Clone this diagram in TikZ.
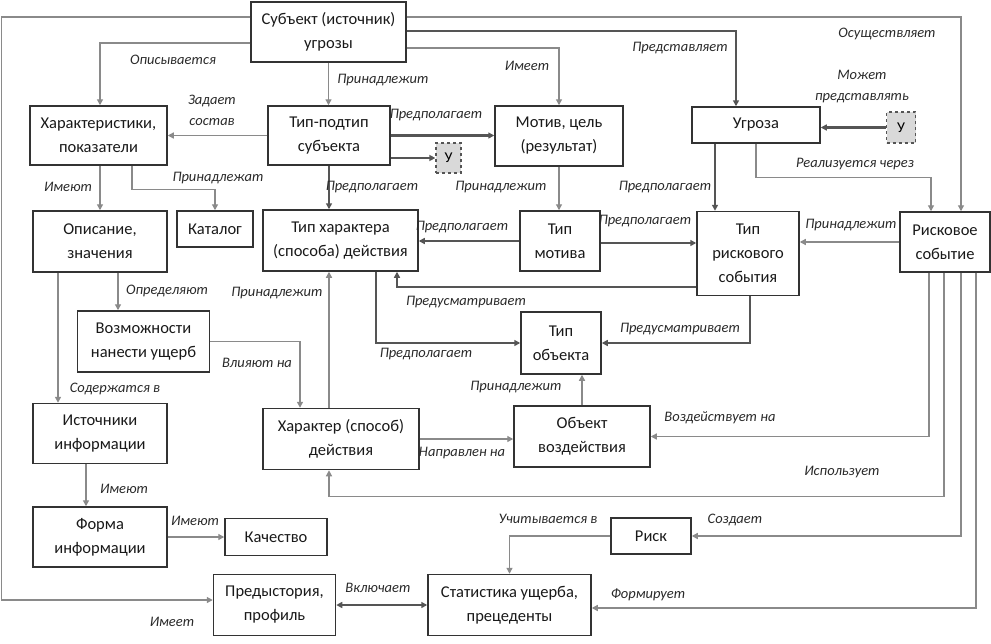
\documentclass[tikz,border=0pt]{standalone}
\usepackage{fontspec}
\setmainfont{Carlito}
\usetikzlibrary{arrows.meta,calc}
\definecolor{boxc}{HTML}{333333}
\definecolor{thinc}{HTML}{8A8A8A}
\definecolor{thickc}{HTML}{555555}
\definecolor{lblc}{HTML}{2A2A2A}
\definecolor{ufill}{HTML}{D9D9D9}
\begin{document}
\begin{tikzpicture}[x=1pt,y=-1pt,
  box/.style={draw=boxc,line width=1.5pt,fill=white,align=center,inner sep=0pt,
    font=\fontsize{16.5pt}{24pt}\selectfont,text=black!90},
  ubox/.style={draw=thickc,dashed,line width=1.3pt,fill=ufill,inner sep=0pt,
    font=\fontsize{15pt}{16pt}\selectfont},
  lbl/.style={font=\fontsize{14.5pt}{21pt}\selectfont\itshape,text=lblc,align=center,inner sep=0pt},
  tc/.style={draw=thinc,line width=1.3pt,-{Triangle[length=6pt,width=6pt]}},
  kc/.style={draw=thickc,line width=2.8pt,-{Triangle[length=6pt,width=6pt]}},
]
\path[use as bounding box,fill=white] (0,0) rectangle (991,643);
% boxes
\node[box,minimum width=155pt,minimum height=60pt] (subj) at (328.5,32) {Субъект (источник)\\угрозы};
\node[box,minimum width=137pt,minimum height=59pt] (harak) at (98.5,135.5) {Характеристики,\\показатели};
\node[box,minimum width=122pt,minimum height=59pt] (tip) at (329,135.5) {Тип-подтип\\субъекта};
\node[ubox,minimum width=25pt,minimum height=30pt] (u1) at (448.5,158) {У};
\node[box,minimum width=128pt,minimum height=60pt] (motiv) at (559,136) {Мотив, цель\\(результат)};
\node[box,minimum width=128pt,minimum height=36pt] (ugroza) at (756,125) {Угроза};
\node[ubox,minimum width=29pt,minimum height=31pt] (u2) at (901,127.5) {У};
\node[box,minimum width=134pt,minimum height=61pt] (opis) at (100,241.5) {Описание,\\значения};
\node[box,minimum width=76pt,minimum height=36pt] (katalog) at (215,229) {Каталог};
\node[box,minimum width=155pt,minimum height=61pt] (tiphar) at (340.5,240.5) {Тип характера\\(способа) действия};
\node[box,minimum width=80pt,minimum height=60pt] (tipmot) at (560,241) {Тип\\мотива};
\node[box,minimum width=102pt,minimum height=84pt] (tipris) at (748,253.5) {Тип\\рискового\\события};
\node[box,minimum width=90pt,minimum height=60pt] (riskev) at (945,242) {Рисковое\\событие};
\node[box,minimum width=132pt,minimum height=61pt] (vozm) at (143.5,341.5) {Возможности\\нанести ущерб};
\node[box,minimum width=80pt,minimum height=62pt] (tipobj) at (561,343) {Тип\\объекта};
\node[box,minimum width=134pt,minimum height=60pt] (istoch) at (100,433.5) {Источники\\информации};
\node[box,minimum width=156pt,minimum height=61pt] (harakter) at (341,439) {Характер (способ)\\действия};
\node[box,minimum width=136pt,minimum height=61pt] (obj) at (582,436.5) {Объект\\воздействия};
\node[box,minimum width=134pt,minimum height=60pt] (forma) at (100,537) {Форма\\информации};
\node[box,minimum width=102pt,minimum height=37pt] (kach) at (276,537) {Качество};
\node[box,minimum width=80pt,minimum height=36pt] (risk) at (651,536) {Риск};
\node[box,minimum width=122pt,minimum height=61pt] (predyst) at (274.5,605) {Предыстория,\\профиль};
\node[box,minimum width=163pt,minimum height=61pt] (stat) at (509.5,605) {Статистика ущерба,\\прецеденты};
% connectors
\draw[tc] ([yshift=15pt]subj.west) -- ++(-249,0) |- ([yshift=5pt]predyst.west);
\draw[tc] ([yshift=15pt]subj.east) -| ([xshift=16pt]riskev.north);
\draw[kc] ([yshift=1pt]subj.east) -| ([xshift=-20pt]ugroza.north);
\draw[tc] ([yshift=-16pt]subj.east) -| (motiv.north);
\draw[tc] ([yshift=-11pt]subj.west) -| ([xshift=1.5pt]harak.north);
\draw[tc] (subj.south) -- (subj.south |- tip.north);
\draw[tc] (tip.west) -- (tip.west -| harak.east);
\draw[kc] (tip.east) -- (tip.east -| motiv.west);
\draw[kc] (u1.west -| tip.east) -- (u1.west);
\draw[kc] (tip.south) -- (tip.south |- tiphar.north);
\draw[tc] (harak.south -| opis.north) -- (opis.north);
\draw[tc] ([xshift=33.5pt]harak.south) -- ++(0,24) -| (katalog.north);
\draw[tc] (motiv.south) -- (motiv.south |- tipmot.north);
\draw[kc] ([xshift=-41pt]ugroza.south) -- ([xshift=-41pt]ugroza.south |- tipris.north);
\draw[tc] (ugroza.south) -- ++(0,34) -| ([xshift=-14pt]riskev.north);
\draw[kc] (u2.west) -- (u2.west -| ugroza.east);
\draw[kc] (tipmot.west) -- (tipmot.west -| tiphar.east);
\draw[kc] ([yshift=-2pt]tipmot.east) -- ([yshift=-2pt]tipmot.east -| tipris.west);
\draw[tc] (riskev.west) -- (riskev.west -| tipris.east);
\draw[kc] ([yshift=-33.5pt]tipris.west) -| ([xshift=56.5pt]tiphar.south);
\draw[kc] ([xshift=2pt]tipris.south) |- (tipobj.east);
\draw[kc] ([xshift=35.5pt]tiphar.south) |- (tipobj.west);
\draw[tc] ([xshift=-42pt]opis.south) -- ([xshift=-42pt]opis.south |- istoch.north);
\draw[tc] ([xshift=18pt]opis.south) -- ([xshift=18pt]opis.south |- vozm.north);
\draw[tc] (vozm.east) -| ([xshift=-41pt]harakter.north);
\draw[tc] ([xshift=-12pt]harakter.north) -- ([xshift=-12pt]harakter.north |- tiphar.south);
\draw[tc] (harakter.east) -- (harakter.east -| obj.west);
\draw[tc] (obj.north) -- (obj.north |- tipobj.south);
\draw[tc] ([xshift=-14pt]istoch.south) -- ([xshift=-14pt]istoch.south |- forma.north);
\draw[tc] (forma.east) -- (forma.east -| kach.west);
\draw[tc] ([xshift=-16pt]riskev.south) |- (obj.east);
\draw[tc] ([xshift=-1pt]riskev.south) -- ++(0,224) -| ([xshift=-12pt]harakter.south);
\draw[tc] ([xshift=16pt]riskev.south) |- (risk.east);
\draw[tc] ([xshift=31pt]riskev.south) |- ([yshift=-3pt]stat.east);
\draw[tc] (risk.west) -| (stat.north);
\draw[kc,{Triangle[length=6pt,width=6pt]}-{Triangle[length=6pt,width=6pt]}] (predyst.east) -- (stat.west);
% labels
\node[lbl] (l1) at (172,622) {Имеет};
\node[lbl] (l2) at (887,34) {Осуществляет};
\node[lbl] (l3) at (680,48) {Представляет};
\node[lbl] (l4) at (527,66) {Имеет};
\node[lbl] (l5) at (173,60) {Описывается};
\node[lbl] (l6) at (383,80) {Принадлежит};
\node[lbl] (l7) at (212,110) {Задает\\состав};
\node[lbl] (l8) at (436,115) {Предполагает};
\node[lbl] (l9) at (372,187) {Предполагает};
\node[lbl] (l10) at (68,187) {Имеют};
\node[lbl] (l11) at (218,178) {Принадлежат};
\node[lbl] (l12) at (501,187) {Принадлежит};
\node[lbl] (l13) at (665,187) {Предполагает};
\node[lbl] (l14) at (855,164) {Реализуется через};
\node[lbl] (l15) at (862,87) {Может\\представлять};
\node[lbl] (l16) at (462,227) {Предполагает};
\node[lbl] (l17) at (645,221) {Предполагает};
\node[lbl] (l18) at (851,225) {Принадлежит};
\node[lbl] (l19) at (466,302) {Предусматривает};
\node[lbl] (l20) at (680,329) {Предусматривает};
\node[lbl] (l21) at (426,354) {Предполагает};
\node[lbl] (l22) at (115,389) {Содержатся в};
\node[lbl] (l23) at (167,291) {Определяют};
\node[lbl] (l24) at (257,363) {Влияют на};
\node[lbl] (l25) at (277,293) {Принадлежит};
\node[lbl] (l26) at (462,453) {Направлен на};
\node[lbl] (l27) at (516,387) {Принадлежит};
\node[lbl] (l28) at (124,489) {Имеют};
\node[lbl] (l29) at (195,521) {Имеют};
\node[lbl] (l30) at (720,418) {Воздействует на};
\node[lbl] (l31) at (842,472) {Использует};
\node[lbl] (l32) at (735,520) {Создает};
\node[lbl] (l33) at (648,595) {Формирует};
\node[lbl] (l34) at (548,519) {Учитывается в};
\node[lbl] (l35) at (378,588) {Включает};
\end{tikzpicture}
\end{document}
